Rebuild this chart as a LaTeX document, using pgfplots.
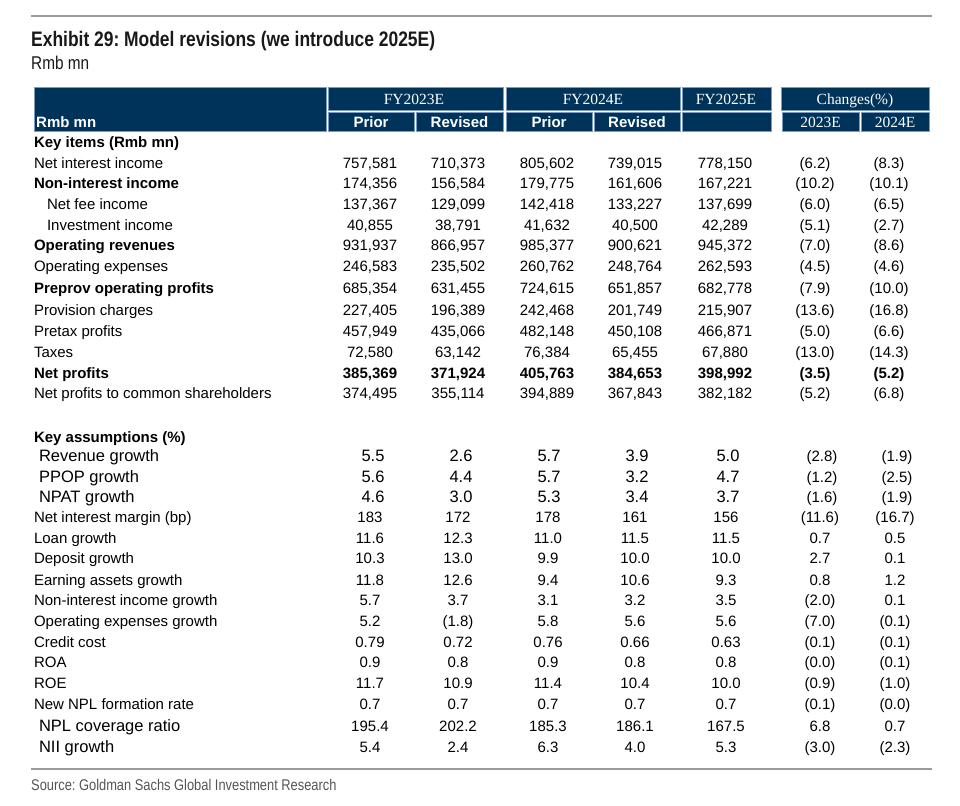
\documentclass[border=0pt]{standalone}
\usepackage{fontspec}
\setmainfont{Liberation Sans}
\newfontfamily\serif{Liberation Serif}
\newfontfamily\narrow[FakeStretch=0.83]{Liberation Sans}
\usepackage{pgfplots}
\usepackage{pgfplotstable}
\pgfplotsset{compat=1.18}
\definecolor{navy}{RGB}{0,51,90}
\definecolor{cellline}{RGB}{125,155,190}
\definecolor{rulegray}{RGB}{155,155,155}
\definecolor{srcgray}{RGB}{85,85,85}
\newcommand\fs[1]{\fontsize{#1}{#1}\selectfont}
\frenchspacing

% Key items (Rmb mn), regular rows: baseline y, FY23 prior/revised, FY24 prior/revised, FY25, changes 23E/24E
\pgfplotstableread{
y a b c d e f g
168 757,581 710,373 805,602 739,015 778,150 (6.2) (8.3)
188.5 174,356 156,584 179,775 161,606 167,221 (10.2) (10.1)
209 137,367 129,099 142,418 133,227 137,699 (6.0) (6.5)
230 40,855 38,791 41,632 40,500 42,289 (5.1) (2.7)
250.5 931,937 866,957 985,377 900,621 945,372 (7.0) (8.6)
271 246,583 235,502 260,762 248,764 262,593 (4.5) (4.6)
293 685,354 631,455 724,615 651,857 682,778 (7.9) (10.0)
315 227,405 196,389 242,468 201,749 215,907 (13.6) (16.8)
336 457,949 435,066 482,148 450,108 466,871 (5.0) (6.6)
357 72,580 63,142 76,384 65,455 67,880 (13.0) (14.3)
398 374,495 355,114 394,889 367,843 382,182 (5.2) (6.8)
}\keyitems
% Net profits (bold row)
\pgfplotstableread{
y a b c d e f g
378 385,369 371,924 405,763 384,653 398,992 (3.5) (5.2)
}\netprofits
% Key assumptions (%), regular rows
\pgfplotstableread{
y a b c d e f g
522 183 172 178 161 156 (11.6) (16.7)
543 11.6 12.3 11.0 11.5 11.5 0.7 0.5
563.5 10.3 13.0 9.9 10.0 10.0 2.7 0.1
585 11.8 12.6 9.4 10.6 9.3 0.8 1.2
605.5 5.7 3.7 3.1 3.2 3.5 (2.0) 0.1
626 5.2 (1.8) 5.8 5.6 5.6 (7.0) (0.1)
647 0.79 0.72 0.76 0.66 0.63 (0.1) (0.1)
667 0.9 0.8 0.9 0.8 0.8 (0.0) (0.1)
688 11.7 10.9 11.4 10.4 10.0 (0.9) (1.0)
709 0.7 0.7 0.7 0.7 0.7 (0.1) (0.0)
731.5 195.4 202.2 185.3 186.1 167.5 6.8 0.7
752 5.4 2.4 6.3 4.0 5.3 (3.0) (2.3)
}\assump
% Key assumptions, rows set in a larger size
\pgfplotstableread{
y a b c d e f g
461 5.5 2.6 5.7 3.9 5.0 (2.8) (1.9)
482.5 5.6 4.4 5.7 3.2 4.7 (1.2) (2.5)
502.5 4.6 3.0 5.3 3.4 3.7 (1.6) (1.9)
}\assumpbig

% Row labels
\pgfplotstableread[col sep=semicolon]{
x;y;t
34;168;Net interest income
47;209;Net fee income
47;230;Investment income
34;271;Operating expenses
34;315;Provision charges
34;336;Pretax profits
34;357;Taxes
34;398;Net profits to common shareholders
34;522;Net interest margin (bp)
34;543;Loan growth
34;563.5;Deposit growth
34;585;Earning assets growth
34;605.5;Non-interest income growth
34;626;Operating expenses growth
34;647;Credit cost
34;667;ROA
34;688;ROE
34;709;New NPL formation rate
}\labreg
\pgfplotstableread[col sep=semicolon]{
x;y;t
34;147.5;Key items (Rmb mn)
34;188.5;Non-interest income
34;250.5;Operating revenues
34;293;Preprov operating profits
34;378;Net profits
34;442;Key assumptions (\%)
}\labbold
\pgfplotstableread[col sep=semicolon]{
x;y;t
39;461;Revenue growth
39;482.5;PPOP growth
39;502.5;NPAT growth
39;731.5;NPL coverage ratio
39;752;NII growth
}\labbig

\pgfplotsset{
  txt/.style={draw=none, mark=none, nodes near coords, point meta=explicit symbolic,
    every node near coord/.append style={anchor=base, inner sep=0pt, outer sep=0pt, text=black, font=#1}},
  txtw/.style={draw=none, mark=none, nodes near coords, point meta=explicit symbolic,
    every node near coord/.append style={anchor=base west, inner sep=0pt, outer sep=0pt, text=black, font=#1}},
}

\begin{document}
\begin{tikzpicture}
\begin{axis}[scale only axis, width=960pt, height=805pt,
  xmin=0, xmax=960, ymin=0, ymax=805, y dir=reverse, hide axis, clip=false]

% page frame (invisible) so the picture spans the full 960x805 area
\path (axis cs:0,0) rectangle (axis cs:960,805);

% rules
\draw[rulegray, line width=1.5pt] (axis cs:31,16) -- (axis cs:932,16);
\draw[rulegray, line width=1.5pt] (axis cs:31,769) -- (axis cs:932,769);

% title
\node[anchor=base west, inner sep=0pt, text={rgb,255:red,25;green,25;blue,25}, font=\narrow\bfseries\fs{21}] at (axis cs:31,46.7) {Exhibit 29: Model revisions (we introduce 2025E)};
\node[anchor=base west, inner sep=0pt, text={rgb,255:red,25;green,25;blue,25}, font=\narrow\fs{18.5}] at (axis cs:31,70) {Rmb mn};
\node[anchor=base west, inner sep=0pt, text=srcgray, font=\narrow\fs{15.5}] at (axis cs:31,790.7) {Source: Goldman Sachs Global Investment Research};

% header cells
\tikzset{cell/.style={fill=navy, draw=cellline, line width=0.7pt}}
\path[cell] (axis cs:34,87) rectangle (axis cs:326,131);
\path[cell] (axis cs:328,87) rectangle (axis cs:503,110);
\path[cell] (axis cs:328,112) rectangle (axis cs:414,131);
\path[cell] (axis cs:416,112) rectangle (axis cs:503,131);
\path[cell] (axis cs:506,87) rectangle (axis cs:680,110);
\path[cell] (axis cs:506,112) rectangle (axis cs:592,131);
\path[cell] (axis cs:594,112) rectangle (axis cs:680,131);
\path[cell] (axis cs:682,87) rectangle (axis cs:771,110);
\path[cell] (axis cs:682,112) rectangle (axis cs:771,131);
\path[cell] (axis cs:781,87) rectangle (axis cs:929,110);
\path[cell] (axis cs:782,112) rectangle (axis cs:859,131);
\path[cell] (axis cs:861,112) rectangle (axis cs:929,131);

\tikzset{hs/.style={anchor=base, inner sep=0pt, text=white, font=\serif\fs{15.5}},
         hb/.style={anchor=base, inner sep=0pt, text=white, font=\bfseries\fs{15}}}
\node[anchor=base west, inner sep=0pt, text=white, font=\bfseries\fs{15}] at (axis cs:36,128) {Rmb mn};
\node[hs] at (axis cs:414,104.3) {FY2023E};
\node[hs] at (axis cs:593,104.3) {FY2024E};
\node[hs] at (axis cs:726,104.3) {FY2025E};
\node[hs] at (axis cs:855,104.3) {Changes(\%)};
\node[hb] at (axis cs:371,128) {Prior};
\node[hb] at (axis cs:459.5,128) {Revised};
\node[hb] at (axis cs:549,128) {Prior};
\node[hb] at (axis cs:637,128) {Revised};
\node[hs] at (axis cs:820.5,128) {2023E};
\node[hs] at (axis cs:895,128) {2024E};

% row labels
\addplot[txtw={\fs{15}}] table[x=x, y=y, meta=t]{\labreg};
\addplot[txtw={\bfseries\fs{15}}] table[x=x, y=y, meta=t]{\labbold};
\addplot[txtw={\fs{16.5}}] table[x=x, y=y, meta=t]{\labbig};

% key items values
\addplot[txt={\fs{15}}] table[x expr=370, y=y, meta=a]{\keyitems};
\addplot[txt={\fs{15}}] table[x expr=458, y=y, meta=b]{\keyitems};
\addplot[txt={\fs{15}}] table[x expr=547, y=y, meta=c]{\keyitems};
\addplot[txt={\fs{15}}] table[x expr=635, y=y, meta=d]{\keyitems};
\addplot[txt={\fs{15}}] table[x expr=725, y=y, meta=e]{\keyitems};
\addplot[txt={\fs{15}}] table[x expr=815, y=y, meta=f]{\keyitems};
\addplot[txt={\fs{15}}] table[x expr=889, y=y, meta=g]{\keyitems};

\addplot[txt={\bfseries\fs{15}}] table[x expr=370, y=y, meta=a]{\netprofits};
\addplot[txt={\bfseries\fs{15}}] table[x expr=458, y=y, meta=b]{\netprofits};
\addplot[txt={\bfseries\fs{15}}] table[x expr=547, y=y, meta=c]{\netprofits};
\addplot[txt={\bfseries\fs{15}}] table[x expr=635, y=y, meta=d]{\netprofits};
\addplot[txt={\bfseries\fs{15}}] table[x expr=725, y=y, meta=e]{\netprofits};
\addplot[txt={\bfseries\fs{15}}] table[x expr=815, y=y, meta=f]{\netprofits};
\addplot[txt={\bfseries\fs{15}}] table[x expr=889, y=y, meta=g]{\netprofits};

% key assumptions values
\addplot[txt={\fs{15}}] table[x expr=370, y=y, meta=a]{\assump};
\addplot[txt={\fs{15}}] table[x expr=458, y=y, meta=b]{\assump};
\addplot[txt={\fs{15}}] table[x expr=548, y=y, meta=c]{\assump};
\addplot[txt={\fs{15}}] table[x expr=635, y=y, meta=d]{\assump};
\addplot[txt={\fs{15}}] table[x expr=726, y=y, meta=e]{\assump};
\addplot[txt={\fs{15}}] table[x expr=820, y=y, meta=f]{\assump};
\addplot[txt={\fs{15}}] table[x expr=895, y=y, meta=g]{\assump};

\addplot[txt={\fs{16.5}}] table[x expr=373, y=y, meta=a]{\assumpbig};
\addplot[txt={\fs{16.5}}] table[x expr=461, y=y, meta=b]{\assumpbig};
\addplot[txt={\fs{16.5}}] table[x expr=549, y=y, meta=c]{\assumpbig};
\addplot[txt={\fs{16.5}}] table[x expr=637, y=y, meta=d]{\assumpbig};
\addplot[txt={\fs{16.5}}] table[x expr=728, y=y, meta=e]{\assumpbig};
\addplot[txt={\fs{15}}] table[x expr=822, y=y, meta=f]{\assumpbig};
\addplot[txt={\fs{15}}] table[x expr=897, y=y, meta=g]{\assumpbig};

\end{axis}
\end{tikzpicture}
\end{document}
